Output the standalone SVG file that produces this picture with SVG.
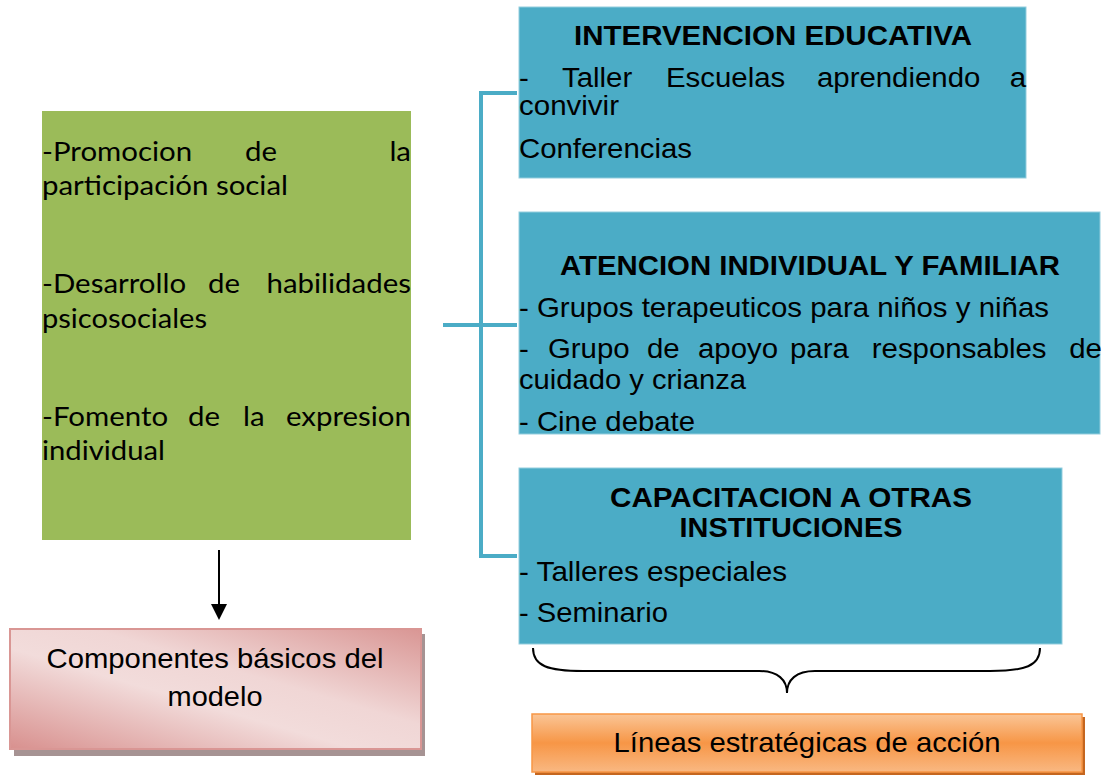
<svg xmlns="http://www.w3.org/2000/svg" width="1106" height="775" viewBox="0 0 1106 775">
  <style>
    .blue { fill: #4BACC6; stroke: #93CDDD; stroke-width: 1; }
    .ttl { font-family: "Liberation Sans", Arial, sans-serif; font-weight: bold; font-size: 27px; fill: #000; }
    .txt { font-family: "Liberation Sans", Arial, sans-serif; font-size: 28px; fill: #000; }
    .cal { font-family: Lato, "Open Sans", sans-serif; font-size: 27px; fill: #000; }
    .conn { fill: none; stroke: #4BACC6; stroke-width: 4; }
  </style>
  <defs>
    <linearGradient id="pinkGrad" x1="0" y1="1" x2="1" y2="0">
      <stop offset="0" stop-color="#D8908E"/>
      <stop offset="0.42" stop-color="#F2DCDB"/>
      <stop offset="0.6" stop-color="#F0D6D5"/>
      <stop offset="1" stop-color="#D99694"/>
    </linearGradient>
    <linearGradient id="orangeGrad" x1="0" y1="0" x2="0" y2="1">
      <stop offset="0" stop-color="#FAC596"/>
      <stop offset="0.5" stop-color="#F79646"/>
      <stop offset="1" stop-color="#F9B882"/>
    </linearGradient>
  </defs>

  <g id="connectors">
    <path class="conn" d="M517,93 H481 V556 H517"/>
    <path class="conn" d="M443,325 H517"/>
    <line x1="219" y1="550" x2="219" y2="606" stroke="#000" stroke-width="2"/>
    <path d="M211,604 L227,604 L219,620 Z" fill="#000"/>
    <path d="M533,648 C533,666 548,671 583,671 L759,671 C778,671 787,680 787,693 C787,680 796,671 815,671 L990,671 C1025,671 1040,666 1040,648" fill="none" stroke="#000" stroke-width="2"/>
  </g>

  <g id="node-componentes-lista">
    <rect x="42" y="111" width="369" height="429" fill="#9BBB59"/>
    <text class="cal" transform="translate(42,161) scale(1.09,1)"><tspan x="0">-Promocion</tspan><tspan x="186.2">de</tspan><tspan x="338.5" text-anchor="end">la</tspan></text>
    <text class="cal" x="42" y="195" textLength="246" lengthAdjust="spacingAndGlyphs">participación social</text>
    <text class="cal" transform="translate(42,293) scale(1.09,1)"><tspan x="0">-Desarrollo</tspan><tspan x="152.3">de</tspan><tspan x="338.5" text-anchor="end">habilidades</tspan></text>
    <text class="cal" x="42" y="328" textLength="165" lengthAdjust="spacingAndGlyphs">psicosociales</text>
    <text class="cal" transform="translate(42,426) scale(1.09,1)"><tspan x="0">-Fomento</tspan><tspan x="133.9">de</tspan><tspan x="184.4">la</tspan><tspan x="338.5" text-anchor="end">expresion</tspan></text>
    <text class="cal" x="42" y="460" textLength="123" lengthAdjust="spacingAndGlyphs">individual</text>
  </g>

  <g id="node-componentes-basicos">
    <rect x="14" y="634" width="411" height="122" fill="#A69393"/>
    <rect x="10" y="629" width="411" height="120" fill="url(#pinkGrad)" stroke="#D99694" stroke-width="2"/>
    <text class="txt" x="215" y="668" text-anchor="middle" textLength="337" lengthAdjust="spacingAndGlyphs">Componentes básicos del</text>
    <text class="txt" x="215" y="706" text-anchor="middle" textLength="95" lengthAdjust="spacingAndGlyphs">modelo</text>
  </g>

  <g id="node-intervencion">
    <rect class="blue" x="519" y="7" width="507" height="171"/>
    <text class="ttl" x="773" y="45" text-anchor="middle" textLength="398" lengthAdjust="spacingAndGlyphs">INTERVENCION EDUCATIVA</text>
    <text class="txt" transform="translate(519,87) scale(1.05,1)"><tspan x="0">-</tspan><tspan x="41">Taller</tspan><tspan x="140">Escuelas</tspan><tspan x="283.8">aprendiendo</tspan><tspan x="482.9" text-anchor="end">a</tspan></text>
    <text class="txt" x="519" y="115" textLength="100" lengthAdjust="spacingAndGlyphs">convivir</text>
    <text class="txt" x="519" y="158" textLength="173" lengthAdjust="spacingAndGlyphs">Conferencias</text>
  </g>

  <g id="node-atencion">
    <rect class="blue" x="519" y="212" width="581" height="222"/>
    <text class="ttl" x="810" y="275" text-anchor="middle" textLength="500" lengthAdjust="spacingAndGlyphs">ATENCION INDIVIDUAL  Y FAMILIAR</text>
    <text class="txt" x="519" y="317" textLength="530" lengthAdjust="spacingAndGlyphs">- Grupos terapeuticos para niños y niñas</text>
    <text class="txt" transform="translate(519,358) scale(1.05,1)"><tspan x="0">-</tspan><tspan x="27.6">Grupo</tspan><tspan x="121.9">de</tspan><tspan x="170.5">apoyo</tspan><tspan x="258.1">para</tspan><tspan x="336">responsables</tspan><tspan x="555.2" text-anchor="end">de</tspan></text>
    <text class="txt" x="519" y="389" textLength="227" lengthAdjust="spacingAndGlyphs">cuidado y crianza</text>
    <text class="txt" x="519" y="431" textLength="176" lengthAdjust="spacingAndGlyphs">- Cine debate</text>
  </g>

  <g id="node-capacitacion">
    <rect class="blue" x="519" y="468" width="543" height="176"/>
    <text class="ttl" x="791" y="507" text-anchor="middle" textLength="362" lengthAdjust="spacingAndGlyphs">CAPACITACION  A OTRAS</text>
    <text class="ttl" x="791" y="537" text-anchor="middle" textLength="223" lengthAdjust="spacingAndGlyphs">INSTITUCIONES</text>
    <text class="txt" x="519" y="581" textLength="268" lengthAdjust="spacingAndGlyphs">- Talleres especiales</text>
    <text class="txt" x="519" y="622" textLength="149" lengthAdjust="spacingAndGlyphs">- Seminario</text>
  </g>

  <g id="node-lineas">
    <rect x="535" y="717" width="550" height="58" fill="#C5661F"/>
    <rect x="532" y="714" width="550" height="58" fill="url(#orangeGrad)" stroke="#F79646" stroke-width="1.5"/>
    <text class="txt" x="807" y="752" text-anchor="middle" textLength="387" lengthAdjust="spacingAndGlyphs">Líneas estratégicas de acción</text>
  </g>
</svg>
